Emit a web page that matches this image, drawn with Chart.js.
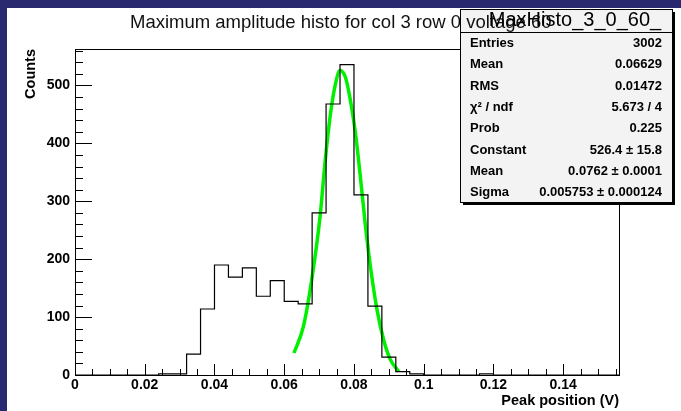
<!DOCTYPE html>
<html>
<head>
<meta charset="utf-8">
<script src="https://cdn.jsdelivr.net/npm/chart.js@4.4.1/dist/chart.umd.min.js"></script>
<style>
  html, body { margin: 0; padding: 0; background: #29296f; width: 681px; height: 411px; overflow: hidden; }
  #pad { position: absolute; left: 7px; top: 8px; width: 674px; height: 403px; background: #fff; }
  canvas { display: block; }
</style>
</head>
<body>
<div id="pad"><canvas id="c" width="674" height="403"></canvas></div>
<script>
// Histogram: 39 bins of 0.004 V from 0 to 0.156, counts.
var BIN_WIDTH = 0.004;
var X_MIN = 0, X_MAX = 0.156;
var Y_MIN = 0, Y_MAX = 563;
var COUNTS = [0, 0, 0, 0, 0, 0, 2, 2, 36, 114, 190, 169, 185, 136, 163, 127, 123, 280, 468, 536,
              311, 119, 31, 6, 2, 0, 0, 0, 0, 2, 0, 0, 0, 0, 0, 0, 0, 0, 0];
// Gaussian fit curve.
var FIT_X = [0.0628, 0.0655, 0.0679, 0.0703, 0.0717, 0.0732, 0.0746, 0.0760, 0.0775, 0.0789,
             0.0804, 0.0818, 0.0832, 0.0847, 0.0866, 0.0885, 0.0904, 0.0928];
var FIT_Y = [38, 84, 165, 275, 367, 448, 500, 526, 515, 477, 419, 344, 263, 188, 113, 61, 27, 6];
// Axis ticks
var X_TICKS = [0, 0.02, 0.04, 0.06, 0.08, 0.1, 0.12, 0.14];
var Y_TICKS = [0, 100, 200, 300, 400, 500];
var X_MINOR = 0.005, Y_MINOR = 20;

var TITLE = 'Maximum amplitude histo for col 3 row 0 voltage 60';
var X_TITLE = 'Peak position (V)';
var Y_TITLE = 'Counts';
var STAT_NAME = 'MaxHisto_3_0_60_';
var STAT_LABELS = ['Entries', 'Mean', 'RMS', 'χ² / ndf', 'Prob', 'Constant', 'Mean', 'Sigma'];
var STAT_VALUES = ['3002', '0.06629', '0.01472', '5.673 / 4', '0.225', '526.4 ± 15.8', '0.0762 ± 0.0001', '0.005753 ± 0.000124'];

var FONT = '"Liberation Sans", Arial, Helvetica, sans-serif';

var histPts = COUNTS.map(function (c, i) { return { x: X_MIN + i * BIN_WIDTH, y: c }; });
histPts.push({ x: X_MIN + COUNTS.length * BIN_WIDTH, y: COUNTS[COUNTS.length - 1] });
var fitPts = FIT_X.map(function (x, i) { return { x: x, y: FIT_Y[i] }; });

function useTicks(list) {
  return function (scale) { scale.ticks = list.map(function (v) { return { value: v }; }); };
}

// Frame, inward ticks, titles and the stats box, ROOT style.
var rootDecor = {
  id: 'rootDecor',
  afterDatasetsDraw: function (chart) {
    var ctx = chart.ctx, a = chart.chartArea, xs = chart.scales.x, ys = chart.scales.y;
    ctx.save();
    ctx.strokeStyle = '#000'; ctx.lineWidth = 1;
    ctx.strokeRect(Math.round(a.left) + 0.5, Math.round(a.top) + 0.5,
                   Math.round(a.right - a.left), Math.round(a.bottom - a.top));
    ctx.beginPath();
    var i, v, p, len;
    for (i = 0; i * X_MINOR <= X_MAX + 1e-9; i++) {
      v = i * X_MINOR;
      p = Math.round(xs.getPixelForValue(v)) + 0.5;
      len = (i % 4 === 0) ? 11 : 6;
      ctx.moveTo(p, a.bottom); ctx.lineTo(p, a.bottom - len);
    }
    for (i = 0; i * Y_MINOR <= Y_MAX; i++) {
      v = i * Y_MINOR;
      p = Math.round(ys.getPixelForValue(v)) + 0.5;
      len = (i % 5 === 0) ? 17 : 8;
      ctx.moveTo(a.left, p); ctx.lineTo(a.left + len, p);
    }
    ctx.stroke();

    // axis titles
    ctx.fillStyle = '#000';
    ctx.font = 'bold 14.5px ' + FONT;
    ctx.textAlign = 'right'; ctx.textBaseline = 'middle';
    ctx.fillText(X_TITLE, a.right, 393);
    ctx.save();
    ctx.translate(24, a.top);
    ctx.rotate(-Math.PI / 2);
    ctx.fillText(Y_TITLE, 0, 0);
    ctx.restore();

    // stats box
    var bx = 453, by = 1, bw = 212, bh = 193;
    ctx.fillStyle = '#000';
    ctx.fillRect(bx + 3, by + bh, bw, 3);
    ctx.fillRect(bx + bw, by + 3, 3, bh);
    ctx.fillStyle = '#f3f3f3';
    ctx.fillRect(bx, by, bw, bh);
    ctx.strokeRect(bx + 0.5, by + 0.5, bw, bh);
    ctx.beginPath(); ctx.moveTo(bx, 24.5); ctx.lineTo(bx + bw, 24.5); ctx.stroke();

    // title, then histogram name over it
    ctx.fillStyle = '#111';
    ctx.font = '18.5px ' + FONT;
    ctx.textAlign = 'left'; ctx.textBaseline = 'alphabetic';
    ctx.fillText(TITLE, 123, 20);
    ctx.fillStyle = '#000';
    ctx.font = '20px ' + FONT;
    ctx.textAlign = 'center';
    ctx.fillText(STAT_NAME, 568, 18);

    ctx.font = 'bold 13px ' + FONT;
    ctx.textBaseline = 'middle';
    for (i = 0; i < STAT_LABELS.length; i++) {
      var ry = 35.3 + i * 21.33;
      ctx.textAlign = 'left'; ctx.fillText(STAT_LABELS[i], 463, ry);
      ctx.textAlign = 'right'; ctx.fillText(STAT_VALUES[i], 655, ry);
    }
    ctx.restore();
  }
};

new Chart(document.getElementById('c').getContext('2d'), {
  type: 'line',
  data: {
    datasets: [
      { label: 'hist', data: histPts, stepped: 'before', borderColor: '#000', borderWidth: 1.2,
        pointRadius: 0, fill: false },
      { label: 'fit', data: fitPts, borderColor: '#00f000', borderWidth: 3.5, pointRadius: 0,
        cubicInterpolationMode: 'monotone', fill: false }
    ]
  },
  options: {
    responsive: false, animation: false, events: [],
    layout: { padding: { left: 0, top: 41, right: 62, bottom: 0 } },
    plugins: { legend: { display: false }, tooltip: { enabled: false }, title: { display: false } },
    scales: {
      x: {
        type: 'linear', min: X_MIN, max: X_MAX,
        grid: { display: false, drawTicks: false }, border: { display: false },
        afterFit: function (s) { s.height = 36; },
        afterBuildTicks: useTicks(X_TICKS),
        ticks: { autoSkip: false, maxRotation: 0, padding: 2, color: '#000',
                 font: { family: FONT, size: 14, weight: 'bold' },
                 callback: function (v) { return String(Math.round(v * 1000) / 1000); } }
      },
      y: {
        type: 'linear', min: Y_MIN, max: Y_MAX,
        grid: { display: false, drawTicks: false }, border: { display: false },
        afterFit: function (s) { s.width = 68; },
        afterBuildTicks: useTicks(Y_TICKS),
        ticks: { autoSkip: false, padding: 5, color: '#000',
                 font: { family: FONT, size: 14, weight: 'bold' } }
      }
    }
  },
  plugins: [rootDecor]
});
</script>
</body>
</html>
